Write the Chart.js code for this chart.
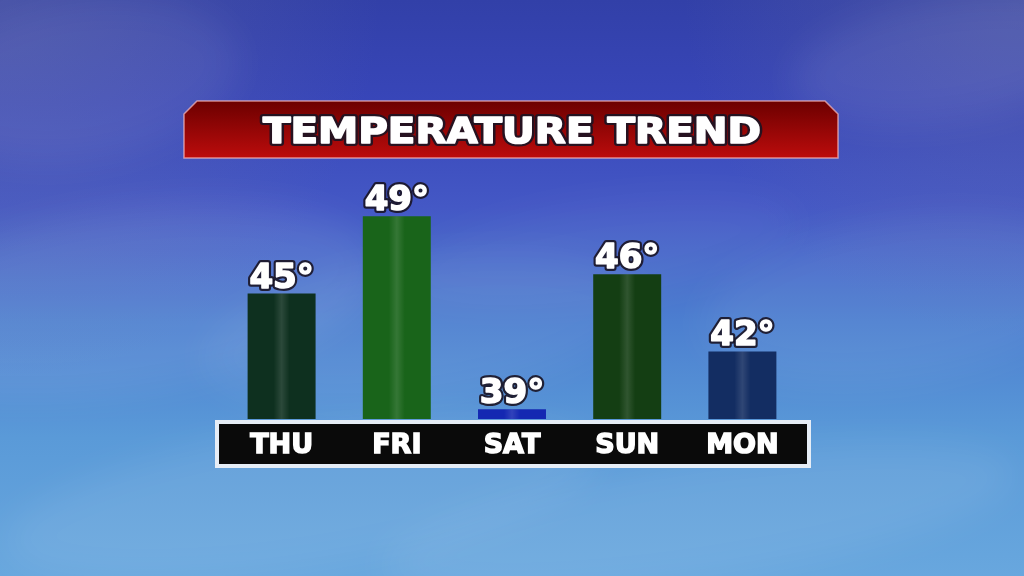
<!DOCTYPE html>
<html>
<head>
<meta charset="utf-8">
<script src="https://cdn.jsdelivr.net/npm/chart.js@4"></script>
<style>
  html, body { margin: 0; padding: 0; background: #3f5cc2; }
  #wrap { width: 1024px; height: 576px; position: relative; }
</style>
</head>
<body>
<div id="wrap"><canvas id="myChart"></canvas></div>
<script>
const days = ['THU', 'FRI', 'SAT', 'SUN', 'MON'];
const temps = [45, 49, 39, 46, 42];
const barColors = ['#0e301f', '#19641a', '#1428b2', '#143e13', '#132d62'];
const chartTitle = 'TEMPERATURE TREND';

// soft cloud patches for the sky backdrop (x, y, rx, ry, alpha)
const clouds = [
    [120, 300, 260, 90, 0.08], [420, 330, 220, 70, 0.06], [900, 300, 200, 80, 0.06],
    [300, 500, 300, 70, 0.08], [700, 520, 320, 60, 0.08], [950, 60, 160, 60, 0.07],
    [80, 80, 160, 80, 0.06], [600, 250, 200, 50, 0.04]
];

// white text with a dark rim, a little heavier than the plain bold face
function outlined(ctx, txt, x, y, rim) {
    ctx.lineJoin = 'round';
    ctx.lineWidth = rim;
    ctx.strokeStyle = 'rgba(25,20,35,0.9)';
    ctx.strokeText(txt, x, y);
    ctx.lineWidth = 1.6;
    ctx.strokeStyle = '#ffffff';
    ctx.strokeText(txt, x, y);
    ctx.fillStyle = '#ffffff';
    ctx.fillText(txt, x, y);
}

const backdrop = {
    id: 'backdrop',
    beforeDraw(chart) {
        const ctx = chart.ctx;
        const w = chart.width, h = chart.height;
        ctx.save();
        const g = ctx.createLinearGradient(0, 0, 0, h);
        g.addColorStop(0, '#3240a8');
        g.addColorStop(0.18, '#3846b9');
        g.addColorStop(0.36, '#4458c5');
        g.addColorStop(0.56, '#4c7fd0');
        g.addColorStop(0.76, '#5a9ad8');
        g.addColorStop(1, '#68a7de');
        ctx.fillStyle = g;
        ctx.fillRect(0, 0, w, h);

        // greyish upper corners
        [[0, 0, 380], [1024, 0, 340]].forEach(c => {
            const r = ctx.createRadialGradient(c[0], c[1], 0, c[0], c[1], c[2]);
            r.addColorStop(0, 'rgba(115,120,165,0.35)');
            r.addColorStop(1, 'rgba(115,120,165,0)');
            ctx.fillStyle = r;
            ctx.fillRect(0, 0, w, h);
        });

        ctx.filter = 'blur(18px)';
        clouds.forEach(c => {
            ctx.fillStyle = 'rgba(255,255,255,' + c[4] + ')';
            ctx.beginPath();
            ctx.ellipse(c[0], c[1], c[2], c[3], -0.15, 0, Math.PI * 2);
            ctx.fill();
        });
        ctx.filter = 'none';

        // title banner
        ctx.beginPath();
        ctx.moveTo(184, 158);
        ctx.lineTo(184, 114);
        ctx.lineTo(197, 101);
        ctx.lineTo(825, 101);
        ctx.lineTo(838, 114);
        ctx.lineTo(838, 158);
        ctx.closePath();
        const rg = ctx.createLinearGradient(0, 101, 0, 158);
        rg.addColorStop(0, '#6c0000');
        rg.addColorStop(1, '#bc0c0c');
        ctx.fillStyle = rg;
        ctx.fill();
        ctx.lineWidth = 1.5;
        ctx.strokeStyle = 'rgba(255,190,190,0.7)';
        ctx.stroke();

        ctx.font = 'bold 35px "DejaVu Sans"';
        ctx.textAlign = 'center';
        ctx.textBaseline = 'middle';
        const tw = ctx.measureText(chartTitle).width;
        ctx.save();
        ctx.translate(512, 134);
        ctx.scale(498 / tw, 1);
        outlined(ctx, chartTitle, 0, 0, 6);
        ctx.restore();

        // day label strip
        ctx.fillStyle = '#e6edf6';
        ctx.fillRect(215, 420, 596, 48);
        ctx.fillStyle = '#0a0a0a';
        ctx.fillRect(219, 424, 588, 40);
        ctx.restore();
    }
};

const barLabels = {
    id: 'barLabels',
    afterDatasetsDraw(chart) {
        const ctx = chart.ctx;
        const meta = chart.getDatasetMeta(0);
        const bottom = chart.chartArea.bottom;
        ctx.save();
        meta.data.forEach((bar, i) => {
            // centre sheen on each bar
            const hg = ctx.createLinearGradient(bar.x - 8, 0, bar.x + 8, 0);
            hg.addColorStop(0, 'rgba(255,255,255,0)');
            hg.addColorStop(0.5, 'rgba(255,255,255,0.12)');
            hg.addColorStop(1, 'rgba(255,255,255,0)');
            ctx.fillStyle = hg;
            ctx.fillRect(bar.x - 8, bar.y, 16, bottom - bar.y);

            ctx.font = 'bold 34px "DejaVu Sans"';
            ctx.textAlign = 'center';
            ctx.textBaseline = 'alphabetic';
            outlined(ctx, temps[i] + '°', bar.x, bar.y - 6, 6);
        });
        ctx.restore();
    }
};

const ctx = document.getElementById('myChart').getContext('2d');
new Chart(ctx, {
    type: 'bar',
    data: {
        labels: days,
        datasets: [{
            data: temps,
            backgroundColor: barColors,
            borderWidth: 0,
            barPercentage: 0.59,
            categoryPercentage: 1
        }]
    },
    options: {
        responsive: true,
        maintainAspectRatio: false,
        animation: false,
        layout: { padding: { left: 224, right: 224, top: 197, bottom: 107 } },
        plugins: { legend: { display: false }, tooltip: { enabled: false } },
        scales: {
            y: { display: false, min: 38.5, max: 50 },
            x: {
                grid: { display: false, drawTicks: false },
                border: { display: false },
                ticks: {
                    color: '#ffffff',
                    textStrokeColor: '#ffffff',
                    textStrokeWidth: 1.5,
                    padding: 11,
                    font: { family: 'DejaVu Sans', weight: 'bold', size: 27 }
                },
                afterFit(scale) { scale.height = 50; }
            }
        }
    },
    plugins: [backdrop, barLabels]
});
</script>
</body>
</html>
